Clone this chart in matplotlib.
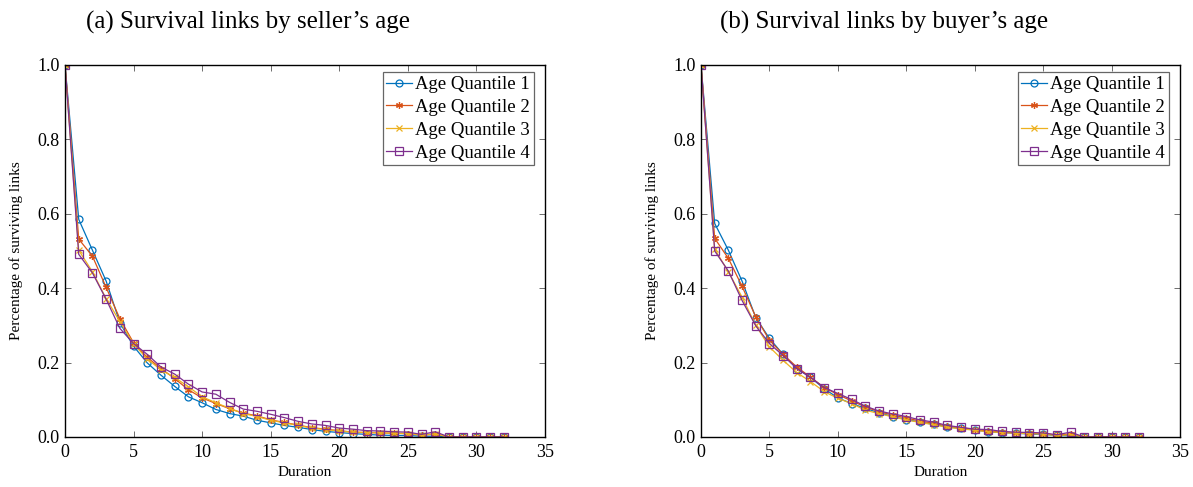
import matplotlib
matplotlib.use("Agg")
import matplotlib.pyplot as plt
import numpy as np

plt.rcParams['font.family'] = ['Liberation Serif', 'DejaVu Serif']
plt.rcParams['mathtext.fontset'] = 'stix'

duration = list(range(0, 33))

series_labels = ["Age Quantile 1", "Age Quantile 2", "Age Quantile 3", "Age Quantile 4"]

seller_q1 = [1.0, .585, .502, .419, .307, .244, .199, .166, .136, .108, .092, .074, .063, .056, .045, .038,
             .031, .026, .020, .015, .012, .009, .007, .005, .004, .004, .002, .002, 0, 0, 0, 0, 0]
seller_q2 = [1.0, .532, .486, .402, .318, .253, .214, .184, .157, .127, .105, .090, .076, .064, .057, .046,
             .039, .032, .025, .021, .017, .013, .012, .011, .010, .009, .005, .008, 0, 0, 0, 0, 0]
seller_q3 = [1.0, .502, .444, .372, .310, .250, .210, .180, .160, .135, .108, .092, .077, .063, .055, .045,
             .038, .031, .024, .020, .016, .013, .012, .011, .010, .009, .005, .008, 0, 0, 0, 0, 0]
seller_q4 = [1.0, .491, .441, .370, .292, .251, .222, .188, .169, .142, .121, .115, .093, .075, .069, .061,
             .052, .042, .035, .031, .024, .021, .017, .016, .014, .013, .007, .014, 0, 0, 0, 0, 0]

buyer_q1 = [1.0, .574, .502, .419, .321, .265, .222, .184, .160, .130, .105, .090, .077, .065, .055, .047,
            .040, .034, .027, .023, .019, .014, .012, .010, .008, .007, .004, .003, 0, 0, 0, 0, 0]
buyer_q2 = [1.0, .534, .480, .405, .323, .260, .222, .188, .161, .133, .114, .097, .081, .068, .059, .051,
            .043, .037, .029, .025, .020, .016, .013, .011, .010, .009, .005, .008, 0, 0, 0, 0, 0]
buyer_q3 = [1.0, .505, .444, .376, .300, .242, .206, .173, .149, .122, .104, .090, .072, .063, .054, .046,
            .039, .033, .026, .022, .018, .014, .012, .010, .009, .008, .004, .006, 0, 0, 0, 0, 0]
buyer_q4 = [1.0, .500, .446, .367, .299, .251, .219, .184, .160, .133, .117, .101, .083, .070, .062, .055,
            .046, .040, .031, .026, .021, .020, .015, .013, .012, .011, .006, .013, 0, 0, 0, 0, 0]

x_ticks = [0, 5, 10, 15, 20, 25, 30, 35]
y_ticks = [0.0, 0.2, 0.4, 0.6, 0.8, 1.0]
panel_titles = ["(a) Survival links by seller\u2019s age", "(b) Survival links by buyer\u2019s age"]

colors = ["#0072BD", "#D95319", "#EDB120", "#7E2F8E"]
markers = ["o", (6, 2, 0), "x", "s"]
marker_sizes = [5, 5, 4, 5.5]
fills = ["none", "full", "full", "none"]

fig = plt.figure(figsize=(11.93, 4.87), dpi=100)
ax_left = fig.add_axes([0.0545, 0.1027, 0.4023, 0.7639])
ax_right = fig.add_axes([0.5876, 0.1027, 0.4015, 0.7639])

panels = [
    (ax_left, [seller_q1, seller_q2, seller_q3, seller_q4]),
    (ax_right, [buyer_q1, buyer_q2, buyer_q3, buyer_q4]),
]

for ax, series in panels:
    for vals, lab, c, m, ms, f in zip(series, series_labels, colors, markers, marker_sizes, fills):
        ax.plot(duration, vals, color=c, marker=m, markersize=ms, fillstyle=f,
                markerfacecolor=("none" if f == "none" else c), markeredgewidth=0.9,
                linewidth=0.9, label=lab)
    ax.set_xlim(0, 35)
    ax.set_ylim(0, 1.0)
    ax.set_xticks(x_ticks)
    ax.set_yticks(y_ticks)
    ax.set_yticklabels([f"{v:.1f}" for v in y_ticks])
    ax.tick_params(direction="in", top=True, right=True, labelsize=13, length=4,
                   width=0.6, color="#555555")
    ax.tick_params(axis="x", pad=5)
    ax.tick_params(axis="y", pad=4)
    for s in ax.spines.values():
        s.set_linewidth(1.0)
        s.set_color("black")
    ax.set_xlabel("Duration", fontsize=11, labelpad=4)
    ax.set_ylabel("Percentage of surviving links", fontsize=11, labelpad=10)
    leg = ax.legend(loc="upper right", bbox_to_anchor=(0.977, 0.98), fontsize=13.5,
                    frameon=True, fancybox=False, edgecolor="#666666", framealpha=1,
                    borderpad=0.2, labelspacing=0.3, handlelength=1.35,
                    handletextpad=0.2, borderaxespad=0)
    leg.get_frame().set_linewidth(0.9)

fig.text(248 / 1193, 1 - 22 / 487, panel_titles[0], ha="center", va="center", fontsize=18)
fig.text(884 / 1193, 1 - 22 / 487, panel_titles[1], ha="center", va="center", fontsize=18)

fig.savefig("out.png", dpi=100)
